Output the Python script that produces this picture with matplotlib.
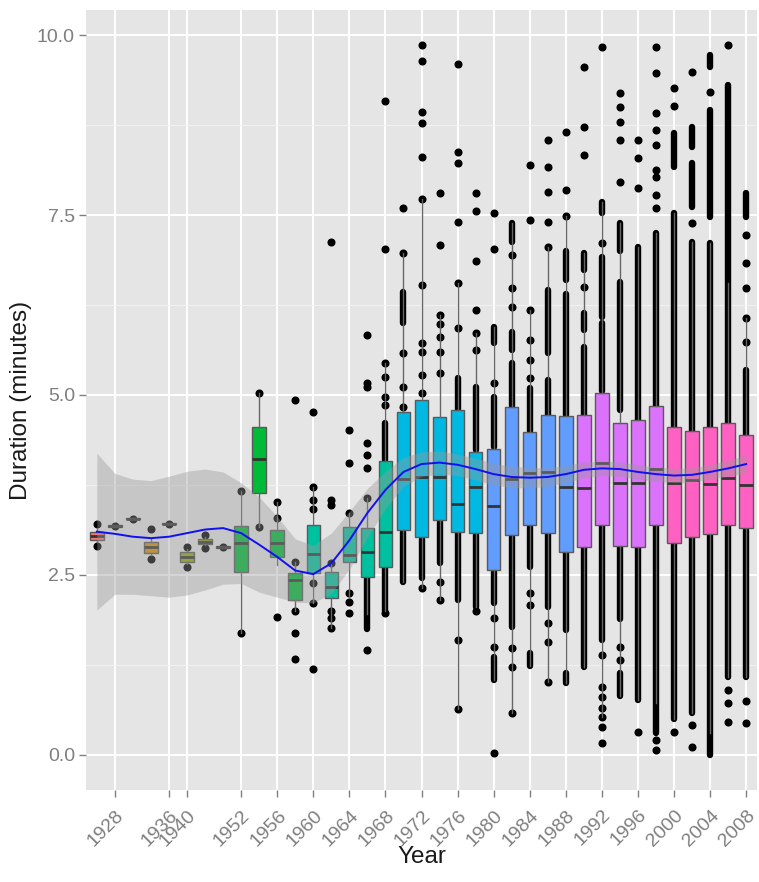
import numpy as np
import matplotlib.pyplot as plt
from matplotlib.transforms import ScaledTranslation

plt.rcParams['font.family'] = ['Liberation Sans', 'DejaVu Sans']

# one box per release year (x axis is discrete)
years = [1926, 1928, 1929, 1933, 1936, 1940, 1946, 1949,
         1952, 1954, 1956, 1958, 1960, 1962, 1964, 1966, 1968,
         1970, 1972, 1974, 1976, 1978, 1980, 1982, 1984, 1986, 1988,
         1990, 1992, 1994, 1996, 1998, 2000, 2002, 2004, 2006, 2008]
tick_years = [1928, 1936, 1940, 1952, 1956, 1960, 1964, 1968, 1972, 1976,
              1980, 1984, 1988, 1992, 1996, 2000, 2004, 2008]

# box stats (minutes)
whis_lo = [2.95, 3.17, 3.27, 2.78, 3.20, 2.65, 2.92, 2.88,
           1.69, 3.17, 2.64, 2.00, 2.11, 1.76, 2.18, 1.95, 2.00,
           2.40, 2.32, 2.15, 0.63, 2.06, 1.04, 0.58, 1.23, 1.01, 1.00,
           1.22, 0.53, 0.81, 0.76, 0.72, 0.49, 0.58, 0.30, 1.08, 1.08]
q1 = [2.98, 3.17, 3.27, 2.80, 3.20, 2.68, 2.93, 2.88,
      2.54, 3.64, 2.75, 2.15, 2.53, 2.18, 2.68, 2.47, 2.61,
      3.13, 3.03, 3.26, 3.10, 3.08, 2.57, 3.06, 3.19, 3.08, 2.82,
      2.89, 3.19, 2.90, 2.89, 3.19, 2.94, 3.03, 3.07, 3.19, 3.15]
med = [3.04, 3.18, 3.28, 2.89, 3.21, 2.75, 2.96, 2.89,
       2.94, 4.11, 2.94, 2.43, 2.79, 2.33, 2.78, 2.82, 3.10,
       3.83, 3.86, 3.86, 3.49, 3.72, 3.46, 3.83, 3.92, 3.93, 3.72,
       3.71, 4.05, 3.78, 3.77, 3.97, 3.78, 3.82, 3.76, 3.85, 3.75]
q3 = [3.10, 3.19, 3.29, 2.96, 3.22, 2.82, 3.00, 2.90,
      3.18, 4.56, 3.12, 2.53, 3.19, 2.54, 3.17, 3.15, 4.08,
      4.76, 4.93, 4.69, 4.79, 4.21, 4.25, 4.83, 4.49, 4.72, 4.71,
      4.72, 5.03, 4.61, 4.65, 4.84, 4.56, 4.50, 4.55, 4.61, 4.44]
whis_hi = [3.14, 3.19, 3.29, 3.00, 3.22, 2.86, 3.02, 2.90,
           3.67, 5.03, 3.51, 2.68, 3.72, 2.67, 3.36, 3.57, 5.44,
           6.97, 7.72, 6.11, 6.56, 5.86, 5.94, 7.39, 6.18, 7.06, 7.49,
           6.97, 7.68, 7.39, 7.06, 7.25, 7.53, 7.13, 7.11, 6.56, 6.07]

# individual songs visible as points
points = [
    [3.20, 2.90], [3.18], [3.28], [3.14, 2.72], [3.21], [2.89, 2.61],
    [3.05, 2.87], [2.89],
    [3.67, 1.69],
    [5.03, 3.17],
    [3.51, 3.29, 1.92],
    [4.93, 2.68, 2.00, 1.69, 1.33],
    [4.77, 3.72, 3.54, 3.42, 2.39, 2.11, 1.19],
    [7.13, 3.54, 3.47, 2.67, 2.00, 1.90, 1.76],
    [4.51, 4.05, 3.36, 2.25, 2.12, 1.97],
    [5.83, 5.17, 5.11, 4.33, 4.17, 3.99, 3.57, 1.46],
    [9.08, 7.03, 5.44, 5.25, 4.97, 4.86, 1.97],
    [7.60, 6.97, 5.58, 5.11, 4.83],
    [9.86, 9.64, 8.93, 8.78, 8.31, 7.72, 6.53, 5.72, 5.60, 5.28, 5.03, 2.32],
    [7.80, 7.08, 6.11, 5.98, 5.80, 5.60, 5.30, 2.40, 2.15],
    [9.60, 8.37, 8.22, 7.40, 6.56, 5.93, 1.60, 0.63],
    [7.81, 7.56, 6.86, 6.18, 5.86, 5.62, 2.00],
    [7.53, 7.03, 5.17, 1.90, 1.50, 0.03],
    [6.94, 6.49, 6.22, 1.49, 1.22, 0.58],
    [8.19, 7.43, 6.18, 5.76, 5.49, 5.24, 2.25, 2.08],
    [8.54, 8.17, 7.82, 7.40, 7.06, 1.83, 1.56, 1.01],
    [8.65, 7.85, 7.49],
    [9.56, 8.73, 8.33, 6.50],
    [9.83, 7.11, 1.38, 0.94, 0.80, 0.65, 0.53, 0.39, 0.17],
    [9.19, 9.00, 8.79, 8.55, 7.96, 1.50, 1.32],
    [8.55, 8.29, 7.88, 0.31],
    [9.83, 9.47, 8.92, 8.68, 8.47, 8.13, 8.03, 7.78, 7.60, 0.20, 0.07],
    [9.26, 9.01, 0.31],
    [9.49, 7.39, 0.42, 0.11],
    [9.21],
    [9.86, 0.90, 0.72, 0.46],
    [7.22, 6.83, 6.49, 6.07, 5.74, 0.74, 0.44],
]

# stretches where the points merge into a solid black column (low, high)
runs = [
    [], [], [], [], [], [], [], [],
    [], [], [], [], [], [], [],
    [(1.75, 2.45)],
    [(4.10, 4.61), (2.00, 2.60)],
    [(6.00, 6.43), (2.40, 3.10)],
    [(2.45, 3.00)],
    [(2.67, 3.24)],
    [(4.80, 5.24), (2.15, 3.08)],
    [(4.24, 5.11), (2.06, 3.06)],
    [(5.72, 5.94), (4.28, 4.97), (2.11, 2.54), (1.04, 1.36)],
    [(7.13, 7.39), (5.62, 5.88), (4.85, 5.44), (1.78, 3.03)],
    [(4.50, 5.10), (2.61, 3.17), (1.23, 1.42)],
    [(5.58, 6.46), (4.72, 5.21), (2.06, 3.08)],
    [(6.60, 7.00), (4.72, 6.40), (1.74, 2.80), (1.00, 1.14)],
    [(6.74, 6.97), (5.90, 6.14), (4.72, 5.67), (1.22, 2.88)],
    [(7.53, 7.68), (6.08, 6.92), (5.05, 6.00), (1.60, 3.19)],
    [(7.00, 7.39), (4.79, 6.57), (1.88, 2.90), (0.81, 1.14)],
    [(4.65, 7.06), (0.76, 2.89)],
    [(4.84, 7.25), (0.30, 3.19)],
    [(8.17, 8.64), (4.56, 7.53), (0.49, 2.94)],
    [(8.44, 8.72), (7.61, 8.22), (4.50, 7.13), (0.58, 3.03)],
    [(9.56, 9.72), (7.47, 8.96), (4.55, 7.11), (0.00, 3.07)],
    [(4.61, 9.31), (1.08, 3.19)],
    [(7.47, 7.80), (4.44, 5.35), (1.08, 3.13)],
]

# loess fit and its confidence half-width at each year
smooth_fit = [3.10, 3.07, 3.03, 3.01, 3.03, 3.08, 3.13, 3.15, 3.08, 2.92,
              2.75, 2.56, 2.51, 2.66, 2.98, 3.36, 3.68, 3.93, 4.04, 4.06,
              4.03, 3.97, 3.90, 3.86, 3.85, 3.86, 3.90, 3.96, 3.98, 3.97,
              3.93, 3.90, 3.88, 3.89, 3.93, 3.98, 4.04]
smooth_se = [1.09, 0.84, 0.80, 0.80, 0.84, 0.86, 0.84, 0.78, 0.70, 0.66,
             0.56, 0.44, 0.40, 0.42, 0.40, 0.34, 0.26, 0.20, 0.17, 0.16,
             0.15, 0.15, 0.15, 0.15, 0.14, 0.13, 0.12, 0.11, 0.10, 0.10,
             0.10, 0.10, 0.10, 0.10, 0.10, 0.11, 0.13]

decade_colors = {1920: '#F8766D', 1930: '#D39200', 1940: '#93AA00',
                 1950: '#00BA38', 1960: '#00C19F', 1970: '#00B9E3',
                 1980: '#619CFF', 1990: '#DB72FB', 2000: '#FF61C3'}

x = np.arange(len(years))

fig = plt.figure(figsize=(7.59, 8.82), dpi=100)
ax = fig.add_axes([86 / 759, 92 / 882, 671 / 759, 780 / 882])
ax.set_facecolor('#E5E5E5')
for s in ax.spines.values():
    s.set_visible(False)

# points first, boxes go on top of them
for i in range(len(years)):
    for lo, hi in runs[i]:
        ax.plot([x[i], x[i]], [lo, hi], color='black', lw=4.6,
                solid_capstyle='round', zorder=2)
    ax.plot([x[i]] * len(points[i]), points[i], 'o', color='black',
            ms=4.8, mec='black', zorder=2)

stats = []
for i in range(len(years)):
    stats.append({'whislo': whis_lo[i], 'q1': q1[i], 'med': med[i],
                  'q3': q3[i], 'whishi': whis_hi[i], 'fliers': []})
bp = ax.bxp(stats, positions=x, widths=0.75, patch_artist=True,
            showcaps=False, showfliers=False, manage_ticks=False,
            boxprops=dict(edgecolor='#595959', linewidth=1.0),
            whiskerprops=dict(color='#666666', linewidth=1.0),
            medianprops=dict(color='#333333', linewidth=2.0),
            zorder=3)
for i, box in enumerate(bp['boxes']):
    box.set_facecolor(decade_colors[years[i] // 10 * 10])

fit = np.array(smooth_fit)
se = np.array(smooth_se)
ax.fill_between(x, fit - se, fit + se, color='#999999', alpha=0.4,
                lw=0, zorder=4)
ax.plot(x, fit, color='#1010F0', lw=1.4, zorder=5)

ax.set_xlim(-0.6, len(years) - 0.4)
ax.set_ylim(-0.49, 10.35)

tick_pos = [years.index(y) for y in tick_years]
ax.set_xticks(tick_pos)
ax.tick_params(axis='x', labelbottom=False)
# rotated year labels, centred a little left of each tick
lab_tr = ax.get_xaxis_transform() + ScaledTranslation(-0.09, -0.38,
                                                      fig.dpi_scale_trans)
for p, y in zip(tick_pos, tick_years):
    ax.text(p, 0, str(y), transform=lab_tr, rotation=45,
            rotation_mode='anchor', ha='center', va='center',
            fontsize=14, color='#7F7F7F')

ax.set_yticks([0, 2.5, 5, 7.5, 10])
ax.set_yticklabels(['0.0', '2.5', '5.0', '7.5', '10.0'])
ax.set_yticks([1.25, 3.75, 6.25, 8.75], minor=True)

ax.tick_params(axis='both', which='major', colors='#7F7F7F', length=5,
               width=1, labelsize=14, labelcolor='#7F7F7F')
ax.tick_params(axis='y', pad=3)
ax.tick_params(axis='both', which='minor', length=0)

ax.grid(True, which='major', color='white', lw=1.4)
ax.grid(True, which='minor', axis='y', color='#F2F2F2', lw=0.7)
ax.set_axisbelow(True)

ax.set_xlabel('Year', fontsize=17.5, color='#1A1A1A', va='center')
ax.xaxis.set_label_coords(0.5, -0.086)
ax.set_ylabel('Duration (minutes)', fontsize=17.5, color='#1A1A1A',
              va='center')
ax.yaxis.set_label_coords(-0.097, 0.5)

fig.savefig('out.png', dpi=100)
